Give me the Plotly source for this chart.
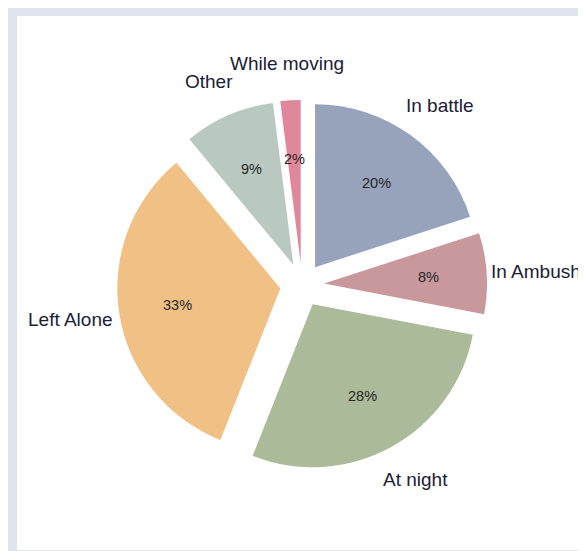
import math
import plotly.graph_objects as go

labels = ["In battle", "In Ambush", "At night", "Left Alone", "Other", "While moving"]
values = [20, 8, 28, 33, 9, 2]
colors = ["#97a3bb", "#c9989d", "#abba98", "#f0c085", "#b9c9c2", "#e0879b"]
pull = 0.135

# figure geometry
W, H = 578, 550
M = dict(l=9, r=0, t=8, b=8)
plot_w = W - M["l"] - M["r"]
plot_h = H - M["t"] - M["b"]
cx, cy = 0.501, 0.4963            # pie centre, paper fraction
half_px = 185.0                    # half of domain size in px
domain = dict(x=[cx - half_px / plot_w, cx + half_px / plot_w],
              y=[cy - half_px / plot_h, cy + half_px / plot_h])
R = half_px / (1 + pull)           # slice radius as plotly computes it

fig = go.Figure()
fig.add_trace(go.Pie(
    labels=labels, values=values, sort=False, direction="clockwise", rotation=0,
    pull=[pull] * len(values), domain=domain,
    marker=dict(colors=colors, line=dict(width=0)),
    textinfo="none", showlegend=False,
    hovertemplate="%{label}: %{percent}<extra></extra>",
))

# text placement derived from the slice angles
total = sum(values)
annotations = []
cum = 0.0
for lab, v in zip(labels, values):
    frac = v / total
    theta = 2 * math.pi * (cum + frac / 2)   # clockwise from 12 o'clock
    cum += frac
    s, c = math.sin(theta), math.cos(theta)
    # percentage inside the pulled slice
    rp = pull * R + 0.64 * R
    annotations.append(dict(
        x=cx + rp * s / plot_w, y=cy + rp * c / plot_h, xref="paper", yref="paper",
        text=f"{round(100 * frac)}%", showarrow=False, xanchor="center", yanchor="middle",
        font=dict(family="Liberation Sans, Arial, sans-serif", size=14.5, color="#262626"),
    ))
    # label outside
    annotations.append(dict(
        x=cx + 1.44 * R * s / plot_w, y=cy + 1.36 * R * c / plot_h, xref="paper", yref="paper",
        text=lab, showarrow=False, xanchor="center", yanchor="middle",
        font=dict(family="Liberation Sans, Arial, sans-serif", size=19, color="#1b2035"),
    ))

fig.update_layout(
    width=W, height=H,
    margin=dict(**M, autoexpand=False),
    paper_bgcolor="#e1e5f0",
    shapes=[dict(type="rect", xref="paper", yref="paper", x0=0, x1=1, y0=0, y1=1,
                 fillcolor="white", line=dict(width=0), layer="below")],
    font=dict(family="Liberation Sans, Arial, sans-serif"),
    annotations=annotations,
)
fig.write_html("out.html")
